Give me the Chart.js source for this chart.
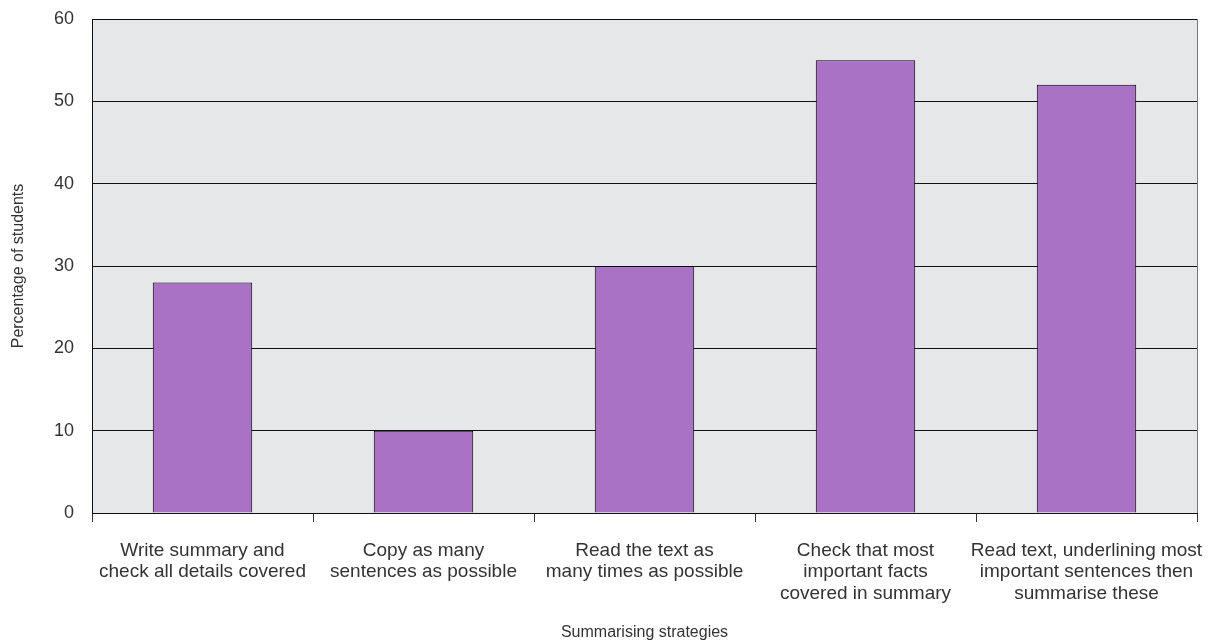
<!DOCTYPE html>
<html><head><meta charset="utf-8">
<script src="https://cdn.jsdelivr.net/npm/chart.js@4.4.1/dist/chart.umd.min.js"></script>
<style>html,body{margin:0;padding:0;background:#fff}#wrap{width:1217px;height:641px}</style>
</head><body><div id="wrap"><canvas id="c" width="1217" height="641"></canvas></div>
<script>
const categories = [
  ["Write summary and", "check all details covered"],
  ["Copy as many", "sentences as possible"],
  ["Read the text as", "many times as possible"],
  ["Check that most", "important facts", "covered in summary"],
  ["Read text, underlining most", "important sentences then", "summarise these"]
];
const percentages = [28, 10, 30, 55, 52];
const yTicks = [0, 10, 20, 30, 40, 50, 60];
const xTitle = "Summarising strategies";
const yTitle = "Percentage of students";

const plotBg = {
  id: 'plotBg',
  beforeDraw(chart) {
    const {ctx, chartArea: a} = chart;
    ctx.save();
    ctx.fillStyle = '#e6e7e8';
    ctx.fillRect(a.left, a.top, a.right - a.left, a.bottom - a.top);
    ctx.restore();
  },
  afterDatasetsDraw(chart) {
    const {ctx, chartArea: a} = chart;
    ctx.save();
    ctx.strokeStyle = '#777';
    ctx.lineWidth = 1;
    ctx.beginPath();
    ctx.moveTo(Math.round(a.right) + 0.5, a.top);
    ctx.lineTo(Math.round(a.right) + 0.5, a.bottom);
    ctx.stroke();
    ctx.restore();
  }
};

const fam = "'Liberation Sans', Arial, sans-serif";
new Chart(document.getElementById('c'), {
  type: 'bar',
  data: {
    labels: categories,
    datasets: [{
      data: percentages,
      backgroundColor: '#a972c4',
      borderColor: '#000',
      borderWidth: 1,
      categoryPercentage: 0.45,
      barPercentage: 1.0
    }]
  },
  options: {
    responsive: false,
    animation: false,
    layout: {padding: {left: 9, right: 20, top: 19, bottom: 0}},
    plugins: {legend: {display: false}, tooltip: {enabled: false}},
    scales: {
      x: {
        grid: {drawOnChartArea: false, drawTicks: true, tickLength: 9, color: '#333', offset: true},
        border: {color: '#111', width: 1},
        ticks: {color: '#333', font: {family: fam, size: 19, lineHeight: 1.13}, padding: 18, maxRotation: 0, autoSkip: false},
        title: {display: true, text: xTitle, color: '#333', font: {family: fam, size: 16, lineHeight: 1}, padding: {top: 12, bottom: 0}},
        afterFit(s) { s.height = 128; s.paddingLeft = 0; s.paddingRight = 0; }
      },
      y: {
        min: 0, max: 60,
        afterBuildTicks(s) { s.ticks = yTicks.map(v => ({value: v})); },
        grid: {color: '#111', drawTicks: false, lineWidth: 1},
        border: {color: '#111', width: 1},
        ticks: {color: '#333', font: {family: fam, size: 18}, padding: 18},
        title: {display: true, text: yTitle, color: '#333', font: {family: fam, size: 16}, padding: {top: 0, bottom: 8}},
        afterFit(s) { s.width = 83; s.paddingTop = 0; s.paddingBottom = 0; }
      }
    }
  },
  plugins: [plotBg]
});
</script>
</body></html>
